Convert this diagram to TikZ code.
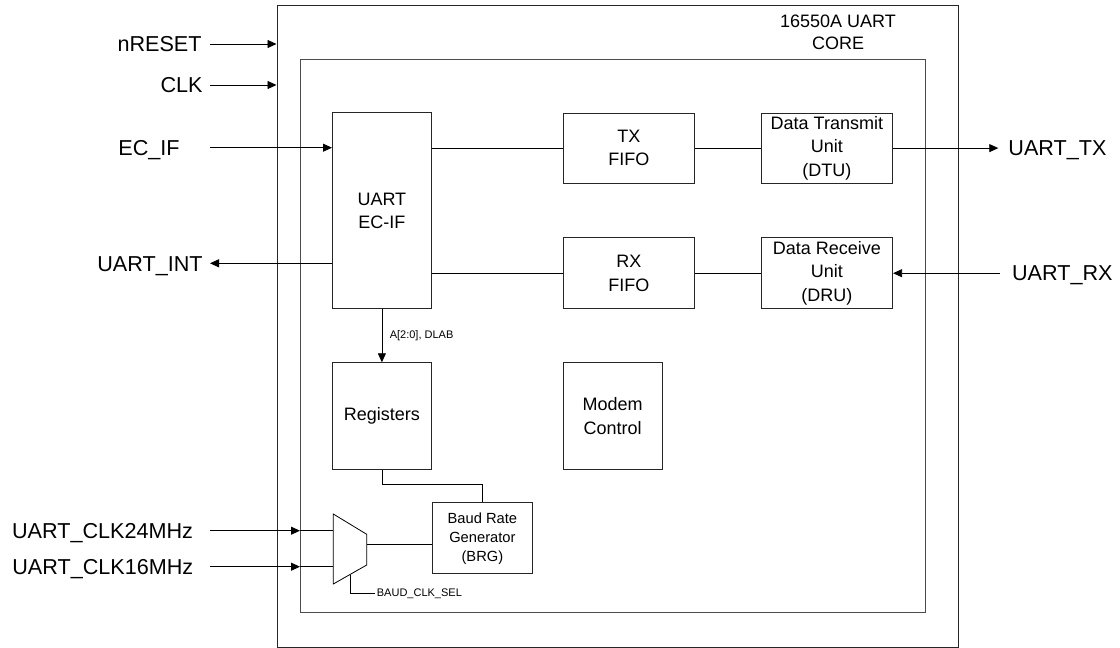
\documentclass[tikz,border=0pt]{standalone}
\usepackage{fontspec}
\setmainfont{Liberation Sans}
\usetikzlibrary{arrows.meta,calc,graphs,positioning}
\tikzset{
    >={Triangle[length=9pt,width=8pt]},
    blk/.style 2 args={draw=black!85,rectangle,align=center,inner sep=0pt,
        minimum width=#1,minimum height=#2,anchor=north west,
        font=\fontsize{18}{23.5}\selectfont},
    frame/.style 2 args={draw,rectangle,minimum width=#1,minimum height=#2,
        anchor=north west,inner sep=0pt},
    lbl/.style={inner sep=0pt,text height=15.5pt,text depth=0pt,
        font=\fontsize{21.6}{24}\selectfont},
    smalllbl/.style={inner sep=0pt,font=\fontsize{11}{13}\selectfont},
}

\begin{document}
\begin{tikzpicture}[x=1pt,y=-1pt,line width=0.8pt]
    \useasboundingbox (0,0) rectangle (1120,648);

    \node[frame={681pt}{642pt},draw=black!85] (core) at (276.5,5) {};
    \node[frame={624.5pt}{552.7pt},draw=black!70,line width=1.3pt] (uart) at (300,59) {};
    \node[align=center,font=\fontsize{18}{21.6}\selectfont] (corelbl) at (838,32.5) {16550A UART\\CORE};

    \node[blk={99pt}{196pt}] (ecif) at (332,112.3) {UART\\EC-IF};
    \node[blk={131.6pt}{70pt}] (txfifo) at (562.7,112.7) {TX\\FIFO};
    \node[blk={131.6pt}{70pt}] (dtu) at (760.7,112.7) {Data Transmit\\Unit\\(DTU)};
    \node[blk={131.6pt}{71pt}] (rxfifo) at (562.7,237.3) {RX\\FIFO};
    \node[blk={131.6pt}{71pt}] (dru) at (760.7,237.3) {Data Receive\\Unit\\(DRU)};
    \node[blk={99pt}{106.7pt}] (regs) at (332,362.3) {Registers};
    \node[blk={99pt}{106.7pt}] (modem) at (562.7,362.3) {Modem\\Control};
    \node[blk={99.4pt}{71pt},font=\fontsize{14.7}{19}\selectfont] (brg) at (432.3,502.3) {Baud Rate\\Generator\\(BRG)};

    \node[lbl,anchor=east] (nreset) at (202,44) {nRESET};
    \node[lbl,anchor=east] (clk) at (203,85) {CLK};
    \node[lbl,anchor=west] (ecifin) at (118,147.7) {EC\_IF};
    \node[lbl,anchor=east] (uartint) at (203,263.3) {UART\_INT};
    \node[lbl,anchor=west] (clka) at (11.7,530.7) {UART\_CLK24MHz};
    \node[lbl,anchor=west] (clkb) at (12,566.7) {UART\_CLK16MHz};
    \node[lbl,anchor=west] (uarttx) at (1008,147.7) {UART\_TX};
    \node[lbl,anchor=west] (uartrx) at (1011.7,272.8) {UART\_RX};

    \coordinate (inx) at (210,0);
    \coordinate (txx) at (998.3,0);
    \coordinate (rxx) at (1000,0);
    \coordinate (muxtl) at (333.3,514);
    \coordinate (muxtr) at (366.7,534.3);
    \coordinate (muxbr) at (366.7,565);
    \coordinate (muxbl) at (333.3,584);
    \coordinate (muxout) at (366.7,544.3);

    \draw[->] (nreset -| inx) -- (nreset -| core.west);
    \draw[->] (clk -| inx) -- (clk -| core.west);
    \draw[->] (ecifin -| inx) -- (ecifin -| ecif.west);
    \draw[->] (uartint -| ecif.west) -- (uartint -| inx);

    \draw (txfifo.west -| ecif.east) -- (txfifo);
    \draw (rxfifo.west -| ecif.east) -- (rxfifo);
    \graph[use existing nodes] {
        txfifo -- dtu;
        rxfifo -- dru;
    };
    \draw[->] (dtu.east) -- (dtu.east -| txx);
    \draw[->] (dru.east -| rxx) -- (dru.east);

    \draw[->] (ecif) -- node[smalllbl,anchor=west,xshift=7.5pt] {A[2:0], DLAB} (regs);
    \draw (regs.south) -- ++(0,14.3) -| (brg.north);

    \draw (muxtl) -- (muxtr) -- (muxbr) -- (muxbl) -- cycle;
    \draw (muxout) -- (muxout -| brg.west);
    \draw[->] (clka -| inx) -- (clka -| uart.west);
    \draw (clka -| uart.west) -- (clka -| muxtl);
    \draw[->] (clkb -| inx) -- (clkb -| uart.west);
    \draw (clkb -| uart.west) -- (clkb -| muxtl);
    \draw ($(muxbr)!0.5!(muxbl)$) -- ++(0,18.8) -- ++(24.5,0)
        node[smalllbl,anchor=west,xshift=2pt] {BAUD\_CLK\_SEL};
\end{tikzpicture}
\end{document}
